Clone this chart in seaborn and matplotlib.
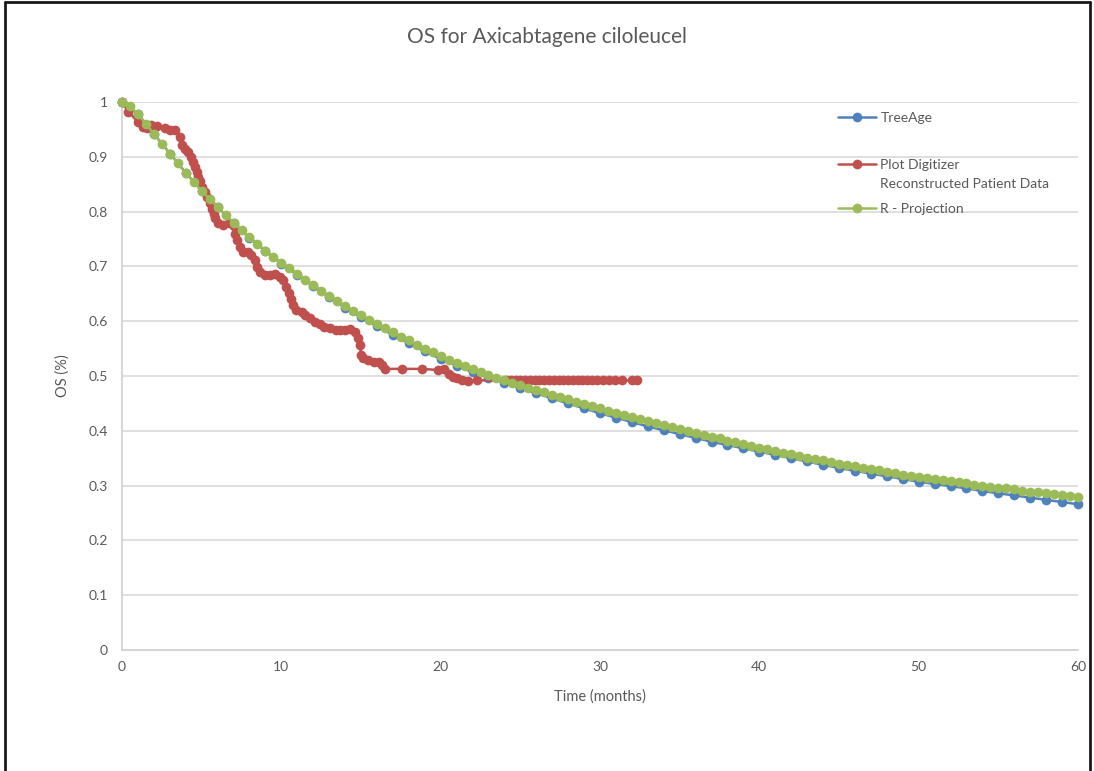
import numpy as np
import pandas as pd
import matplotlib
matplotlib.use("Agg")
import matplotlib.pyplot as plt
from matplotlib.lines import Line2D
import seaborn as sns

# ---------------- data ----------------
title = "OS for Axicabtagene ciloleucel"
x_label = "Time (months)"
y_label = "OS (%)"
series_names = ["TreeAge", "Plot Digitizer\nReconstructed Patient Data", "R - Projection"]

x_ticks = [0, 10, 20, 30, 40, 50, 60]
y_ticks = [0, 0.1, 0.2, 0.3, 0.4, 0.5, 0.6, 0.7, 0.8, 0.9, 1.0]
y_tick_labels = ["0", "0.1", "0.2", "0.3", "0.4", "0.5", "0.6", "0.7", "0.8", "0.9", "1"]

# TreeAge: monthly values 0..60
treeage_t = list(range(0, 61))
treeage_os = [1.000, 0.978, 0.942, 0.906, 0.871, 0.838, 0.808, 0.779, 0.752, 0.728,
              0.705, 0.685, 0.664, 0.644, 0.625, 0.607, 0.591, 0.575, 0.560, 0.545,
              0.531, 0.519, 0.507, 0.497, 0.488, 0.478, 0.469, 0.459, 0.450, 0.441,
              0.432, 0.424, 0.416, 0.408, 0.401, 0.394, 0.387, 0.380, 0.374, 0.368,
              0.362, 0.356, 0.350, 0.344, 0.338, 0.332, 0.327, 0.322, 0.317, 0.312,
              0.307, 0.303, 0.299, 0.295, 0.290, 0.286, 0.282, 0.278, 0.274, 0.270,
              0.266]

# R - Projection: half-month values 0..60
rproj_t = [i * 0.5 for i in range(121)]
rproj_os = [1.000, 0.992, 0.978, 0.960, 0.942, 0.924, 0.906, 0.888, 0.871, 0.854,
            0.838, 0.823, 0.808, 0.794, 0.780, 0.766, 0.753, 0.741, 0.729, 0.718,
            0.707, 0.697, 0.687, 0.676, 0.666, 0.656, 0.646, 0.637, 0.628, 0.619,
            0.611, 0.603, 0.595, 0.587, 0.580, 0.572, 0.565, 0.557, 0.550, 0.543,
            0.536, 0.530, 0.524, 0.518, 0.512, 0.507, 0.502, 0.497, 0.493, 0.488,
            0.484, 0.479, 0.475, 0.470, 0.466, 0.462, 0.458, 0.453, 0.449, 0.445,
            0.441, 0.437, 0.433, 0.429, 0.425, 0.421, 0.418, 0.414, 0.410, 0.407,
            0.403, 0.400, 0.396, 0.393, 0.389, 0.386, 0.382, 0.379, 0.376, 0.372,
            0.369, 0.366, 0.363, 0.360, 0.357, 0.354, 0.351, 0.349, 0.346, 0.343,
            0.340, 0.338, 0.335, 0.333, 0.330, 0.328, 0.325, 0.323, 0.320, 0.318,
            0.316, 0.314, 0.312, 0.310, 0.308, 0.306, 0.304, 0.302, 0.300, 0.298,
            0.296, 0.295, 0.293, 0.291, 0.289, 0.288, 0.286, 0.284, 0.282, 0.281,
            0.279]

# Plot Digitizer reconstructed patient data
digit_t = [0.0, 0.4, 1.0, 1.3, 1.55, 1.85, 2.2, 2.7, 3.0, 3.35,
           3.65, 3.75, 3.95, 4.15, 4.3, 4.45, 4.58, 4.7, 4.8, 4.9,
           5.05, 5.2, 5.32, 5.5, 5.65, 5.75, 5.85, 6.05, 6.35, 6.7,
           7.0, 7.1, 7.2, 7.4, 7.6, 7.9, 8.1, 8.35, 8.45, 8.65,
           9.0, 9.3, 9.6, 9.9, 10.1, 10.3, 10.45, 10.6, 10.75, 10.95,
           11.3, 11.5, 11.8, 12.1, 12.4, 12.7, 13.05, 13.4, 13.7, 14.0,
           14.3, 14.6, 14.8, 14.95, 15.0, 15.15, 15.45, 15.8, 16.1, 16.3,
           16.5, 17.55, 18.8, 19.85, 20.2, 20.5, 20.8, 21.05, 21.35, 21.7,
           22.3, 24.1, 24.4, 24.7, 25.0, 25.3, 25.6, 25.9, 26.2, 26.5,
           26.8, 27.1, 27.4, 27.7, 28.0, 28.3, 28.6, 28.9, 29.2, 29.5,
           29.8, 30.2, 30.55, 30.95, 31.35, 32.0, 32.35]
digit_os = [1.000, 0.982, 0.964, 0.955, 0.952, 0.958, 0.957, 0.952, 0.949, 0.949,
            0.937, 0.922, 0.915, 0.909, 0.900, 0.891, 0.882, 0.873, 0.864, 0.855,
            0.845, 0.836, 0.827, 0.815, 0.805, 0.796, 0.788, 0.779, 0.776, 0.779,
            0.773, 0.760, 0.748, 0.736, 0.727, 0.727, 0.721, 0.712, 0.699, 0.690,
            0.684, 0.684, 0.687, 0.681, 0.675, 0.663, 0.651, 0.640, 0.630, 0.620,
            0.617, 0.611, 0.605, 0.599, 0.594, 0.590, 0.587, 0.584, 0.584, 0.584,
            0.586, 0.580, 0.569, 0.557, 0.538, 0.532, 0.529, 0.526, 0.526, 0.520,
            0.513, 0.513, 0.513, 0.511, 0.513, 0.503, 0.499, 0.496, 0.493, 0.491,
            0.492, 0.492, 0.492, 0.492, 0.492, 0.492, 0.492, 0.492, 0.492, 0.492,
            0.492, 0.492, 0.492, 0.492, 0.492, 0.492, 0.492, 0.492, 0.492, 0.492,
            0.492, 0.492, 0.492, 0.492, 0.492, 0.492, 0.492]

colors = ["#4F81BD", "#C0504D", "#9BBB59"]

# ---------------- style ----------------
sns.set_style("white")
plt.rcParams["font.family"] = ["Lato", "DejaVu Sans"]
text_color = "#595959"

W, H = 1094, 771
fig = plt.figure(figsize=(W / 100, H / 100), dpi=100)
fig.patch.set_facecolor("white")

# plot area: x 122..1078 px, y 102..650 px
ax = fig.add_axes([122 / W, 1 - 650 / H, (1078 - 122) / W, (650 - 102) / H])

df_tree = pd.DataFrame({"t": treeage_t, "os": treeage_os})
df_dig = pd.DataFrame({"t": digit_t, "os": digit_os})
df_r = pd.DataFrame({"t": rproj_t, "os": rproj_os})

common = dict(marker="o", markersize=7, markeredgewidth=0, linewidth=1.8,
              estimator=None, sort=False, ax=ax, clip_on=False)
sns.lineplot(data=df_tree, x="t", y="os", color=colors[0], label=series_names[0], zorder=3, **common)
sns.lineplot(data=df_dig, x="t", y="os", color=colors[1], label=series_names[1], zorder=4, **common)
sns.lineplot(data=df_r, x="t", y="os", color=colors[2], label=series_names[2], zorder=5, **common)

ax.set_xlim(0, 60)
ax.set_ylim(0, 1)
ax.set_xticks(x_ticks)
ax.set_xticklabels([str(v) for v in x_ticks])
ax.set_yticks(y_ticks)
ax.set_yticklabels(y_tick_labels)
ax.tick_params(axis="both", length=0, labelsize=10, labelcolor=text_color)
ax.tick_params(axis="y", pad=10)
ax.tick_params(axis="x", pad=8)

ax.grid(axis="y", color="#d9d9d9", linewidth=1.2)
ax.grid(axis="x", visible=False)
ax.set_axisbelow(True)
for s in ["top", "right"]:
    ax.spines[s].set_visible(False)
for s in ["left", "bottom"]:
    ax.spines[s].set_color("#d0d0d0")
    ax.spines[s].set_linewidth(1.2)

ax.set_xlabel(x_label, fontsize=10.5, color=text_color)
ax.set_ylabel(y_label, fontsize=10.5, color=text_color)
ax.xaxis.set_label_coords(0.5, (650 - 689) / 548)
ax.yaxis.set_label_coords((70 - 122) / 956, 0.5)

fig.text(0.5, 1 - 37 / H, title, ha="center", va="center", fontsize=15, color=text_color)

# ---------------- legend ----------------
handles, labels = ax.get_legend_handles_labels()
if ax.get_legend() is not None:
    ax.get_legend().remove()

leg_kw = dict(frameon=False, fontsize=10, labelcolor=text_color, handlelength=2.7,
              handletextpad=0.35, borderpad=0, borderaxespad=0,
              bbox_transform=fig.transFigure)
leg1 = fig.legend([handles[0]], [labels[0]], loc="center left",
                  bbox_to_anchor=(838 / W, 1 - 118 / H), **leg_kw)
leg2 = fig.legend([handles[1]], [labels[1]], loc="upper left",
                  bbox_to_anchor=(838 / W, 1 - 159 / H), **leg_kw)
for t in leg2.get_texts():
    t.set_linespacing(1.75)
try:
    for col in leg2._legend_handle_box.get_children():
        for item in col.get_children():
            item.align = "top"
except Exception:
    pass
leg3 = fig.legend([handles[2]], [labels[2]], loc="center left",
                  bbox_to_anchor=(838 / W, 1 - 209 / H), **leg_kw)

# ---------------- outer frame ----------------
frame_kw = dict(color="#1a1a1a", linewidth=2, transform=fig.transFigure)
fig.add_artist(Line2D([5 / W, 5 / W], [0, 1 - 2 / H], **frame_kw))
fig.add_artist(Line2D([5 / W, 1090 / W], [1 - 2 / H, 1 - 2 / H], **frame_kw))
fig.add_artist(Line2D([1090 / W, 1090 / W], [0, 1 - 2 / H], **frame_kw))

fig.savefig("out.png", dpi=100)
